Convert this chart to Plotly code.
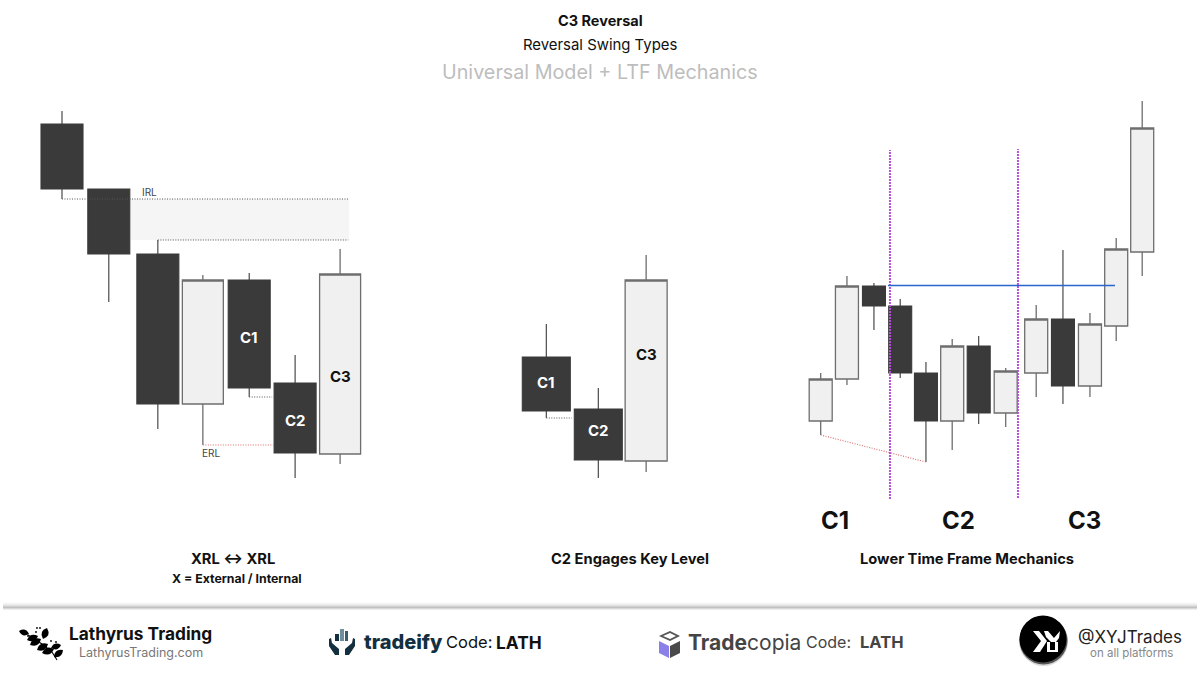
import plotly.graph_objects as go

W, H = 1200, 675
FONT = "Inter"
DARK = "#3a3a3a"
LIGHT_FILL = "#f0f0f0"
LIGHT_LINE = "#6e6e6e"

# ---------- data (bar position, price) ----------
p1_pos = [0, 1.04, 2.13, 3.13, 4.16, 5.18, 6.18]
p1_open = [551, 486, 421, 271, 395, 292, 221]
p1_close = [486, 421, 271, 395, 287, 222, 401]
p1_high = [564, 486, 435, 400, 402, 320, 426]
p1_low = [476, 373, 246, 230, 278, 197, 211]

p2_pos = [0, 1, 1.92]
p2_open = [318, 266, 214]
p2_close = [264, 215, 395]
p2_high = [351, 287, 420]
p2_low = [257, 197, 203]

p3_pos = [0, 1.05, 2.13, 3.18, 4.21, 5.26, 6.32, 7.40, 8.62, 9.69, 10.77, 11.82, 12.86]
p3_open = [254, 296, 389, 369, 302, 254, 329, 262, 302, 356, 289, 349, 423]
p3_close = [296, 389, 369, 302, 254, 329, 262, 304, 356, 289, 351, 426, 547]
p3_high = [302, 399, 392, 376, 313, 336, 339, 307, 370, 425, 362, 437, 574]
p3_low = [240, 290, 345, 297, 213, 225, 251, 248, 278, 271, 278, 334, 399]

titles = ["C3 Reversal", "Reversal Swing Types", "Universal Model + LTF Mechanics"]
captions = ["XRL ↔ XRL", "X = External / Internal", "C2 Engages Key Level", "Lower Time Frame Mechanics"]


def axis_range(px0, ppu):
    return [(0 - px0) / ppu, (W - px0) / ppu]


def px(x):
    return x / W


def py(y):
    return 1 - y / H


def candles(fig, pos, o, h, l, c, xaxis, dark_w, light_w):
    """Draw OHLC bars as box glyphs so that the body width can be set per panel."""
    for rising, fill, line, lw, w in [(True, LIGHT_FILL, LIGHT_LINE, 1.3, light_w),
                                      (False, DARK, DARK, 1.1, dark_w)]:
        idx = [i for i in range(len(pos)) if (c[i] > o[i]) == rising]
        if not idx:
            continue
        fig.add_trace(go.Box(
            x=[pos[i] for i in idx],
            q1=[min(o[i], c[i]) for i in idx],
            median=[c[i] for i in idx],
            q3=[max(o[i], c[i]) for i in idx],
            lowerfence=[l[i] for i in idx],
            upperfence=[h[i] for i in idx],
            width=w, whiskerwidth=0, fillcolor=fill,
            line=dict(color=line, width=lw),
            xaxis=xaxis, yaxis="y", showlegend=False, hoverinfo="skip",
        ))


def guide(xs, ys, xaxis, color, width=1, dash="1px,1.5px"):
    return go.Scatter(x=xs, y=ys, xaxis=xaxis, yaxis="y", mode="lines",
                      line=dict(color=color, width=width, dash=dash),
                      showlegend=False, hoverinfo="skip")


fig = go.Figure()
candles(fig, p1_pos, p1_open, p1_high, p1_low, p1_close, "x", 42 / 45, 41 / 45)
candles(fig, p2_pos, p2_open, p2_high, p2_low, p2_close, "x2", 48 / 52, 42 / 52)
candles(fig, p3_pos, p3_open, p3_high, p3_low, p3_close, "x3", 23 / 25, 23 / 25)

# guides
fig.add_trace(guide([0, 6.36], [476, 476], "x", "#555555", 1))
fig.add_trace(guide([2.13, 6.36], [435, 435], "x", "#555555", 1))
fig.add_trace(guide([3.13, 4.73], [230, 230], "x", "#e06a6a", 1.1))
fig.add_trace(guide([4.16, 4.67], [278, 278], "x", "#555555", 1))
fig.add_trace(guide([0, 0.49], [257, 257], "x2", "#555555", 1))
fig.add_trace(guide([0, 4.21], [240, 213], "x3", "#e06a6a", 1.1))
fig.add_trace(guide([2.77, 2.77], [176, 525], "x3", "#b84ee0", 2, "2px,1px"))
fig.add_trace(guide([7.89, 7.89], [177, 526], "x3", "#b84ee0", 2, "2px,1px"))
fig.add_trace(guide([2.69, 11.77], [389.5, 389.5], "x3", "#2a66cc", 1.5, "solid"))

shapes = [dict(type="rect", xref="x", yref="y", x0=1.53, x1=6.38, y0=435, y1=476,
               fillcolor="#f5f5f5", line_width=0, layer="below")]

# footer shadow rule
for i, shade in enumerate(["#f8f8f8", "#f0f0f0", "#e4e4e4", "#d2d2d2", "#b8b8b8", "#a8a8a8", "#dddddd"]):
    shapes.append(dict(type="rect", xref="paper", yref="paper",
                       x0=px(3), x1=px(1197), y0=py(602.5 + i), y1=py(603.5 + i),
                       fillcolor=shade, line_width=0, layer="below"))


def path(points_cmd):
    out = []
    for tok in points_cmd:
        if isinstance(tok, str):
            out.append(tok)
        else:
            out.append(f"{px(tok[0]):.5f},{py(tok[1]):.5f}")
    return " ".join(out)


def poly(points, color, line=0):
    d = ["M", points[0]]
    for p in points[1:]:
        d += ["L", p]
    d.append("Z")
    shapes.append(dict(type="path", xref="paper", yref="paper", path=path(d),
                       fillcolor=color, line=dict(color=color, width=line)))


def stroke(points, color, width):
    d = ["M", points[0]]
    for p in points[1:]:
        d += ["L", p]
    shapes.append(dict(type="path", xref="paper", yref="paper", path=path(d),
                       line=dict(color=color, width=width)))


def leaf(a, b, fat, color="#000000"):
    mx, my = (a[0] + b[0]) / 2, (a[1] + b[1]) / 2
    dx, dy = b[0] - a[0], b[1] - a[1]
    c1 = (mx - dy * fat, my + dx * fat)
    c2 = (mx + dy * fat, my - dx * fat)
    d = ["M", a, "Q", c1, b, "Q", c2, a, "Z"]
    shapes.append(dict(type="path", xref="paper", yref="paper", path=path(d),
                       fillcolor=color, line_width=0))


def dot(cx, cy, r, color):
    shapes.append(dict(type="circle", xref="paper", yref="paper",
                       x0=px(cx - r), x1=px(cx + r), y0=py(cy + r), y1=py(cy - r),
                       fillcolor=color, line_width=0))


# Lathyrus sprig
stroke([(28, 635), (42, 644), (52, 652), (57, 660)], "#000000", 1.1)
leaf((19, 631), (29, 634), 0.55)
leaf((43, 639), (47, 628), 0.6)
leaf((27, 640), (38, 636), 0.55)
leaf((30, 645), (41, 639), 0.55)
leaf((51, 648), (61, 645), 0.55)
leaf((37, 650), (48, 644), 0.55)
leaf((42, 653), (54, 649), 0.55)
leaf((54, 657), (63, 650), 0.55)
for cx, cy in [(37, 628), (40, 628), (36, 632), (51, 641), (56, 642), (28, 636)]:
    dot(cx, cy, 0.9, "#000000")

# tradeify hands and bars
TF = "#12303f"
poly([(329, 639), (331, 638), (332, 643), (339, 649), (339, 655), (335, 655), (329, 646)], TF)
poly([(355, 639), (353, 638), (352, 643), (345, 649), (345, 655), (349, 655), (355, 646)], TF)
poly([(335, 634), (339, 634), (339, 641), (335, 641)], TF)
poly([(340, 629), (344, 629), (344, 641), (340, 641)], "#6f8f9c")
poly([(345, 631), (348, 631), (348, 641), (345, 641)], "#3c5c6a")

# Tradecopia box
poly([(659, 641), (669, 646), (669, 658), (659, 653)], "#8a80e8")
poly([(670, 646), (680, 641), (680, 653), (670, 658)], "#4a4a4a")
poly([(659, 636), (670, 631), (680, 636), (670, 641)], "#555555")
poly([(663, 636), (670, 633), (676, 636), (670, 639)], "#ffffff")

# XYJ badge
dot(1043.5, 641.5, 24.5, "#d8d8d8")
dot(1043.5, 640.5, 24, "#555555")
dot(1043, 639, 23.5, "#000000")
poly([(1033, 631), (1039, 631), (1047, 641), (1040, 652), (1033, 652), (1041, 641)], "#ffffff")
poly([(1044, 631), (1048, 631), (1054, 638), (1060, 631), (1059, 638), (1056, 642), (1051, 642), (1046, 637)], "#ffffff")
poly([(1047, 642), (1050, 642), (1050, 650), (1055, 650), (1055, 642), (1058, 642), (1058, 652), (1047, 652)], "#ffffff")


def note(x, y, text, size, color="#000000", weight=400, anchor="center", family=FONT):
    fig.add_annotation(xref="paper", yref="paper", x=px(x), y=py(y), text=text,
                       showarrow=False, xanchor=anchor, yanchor="middle",
                       font=dict(family=family, size=size, color=color, weight=weight))


note(600, 21, titles[0], 14.5, weight=700, color="#111111")
note(600, 45, titles[1], 14.9, color="#111111")
note(600, 72, titles[2], 19.75, color="#bdbdbd")

note(233, 559, captions[0], 14.7, weight=700, color="#111111")
note(237, 578, captions[1], 12.3, weight=700, color="#111111")
note(630, 559, captions[2], 14.7, weight=700, color="#111111")
note(967, 559, captions[3], 14.7, weight=700, color="#111111")

note(149, 192, "IRL", 10, color="#444444")
note(211, 452.5, "ERL", 10, color="#444444")

note(249, 337, "C1", 15, color="#ffffff", weight=700)
note(295, 421, "C2", 15, color="#ffffff", weight=700)
note(340, 376, "C3", 15, color="#111111", weight=700)
note(546, 383, "C1", 15, color="#ffffff", weight=700)
note(598, 430, "C2", 15, color="#ffffff", weight=700)
note(646, 354, "C3", 15, color="#111111", weight=700)
note(835, 520, "C1", 24, color="#111111", weight=700)
note(958, 520, "C2", 24, color="#111111", weight=700)
note(1084, 520, "C3", 24, color="#111111", weight=700)

note(67, 633.5, "Lathyrus Trading", 17.3, weight=700, anchor="left", color="#111111")
note(77, 652.5, "LathyrusTrading.com", 12.5, color="#777777", anchor="left")
note(362, 642, "tradeify", 20, color=TF, weight=800, anchor="left")
note(444, 642, "Code:", 16.5, color="#111111", anchor="left")
note(494, 642, "LATH", 17.3, color="#111111", weight=700, anchor="left")
note(686, 642, "<b>Trade</b>copia", 21, color="#444444", anchor="left")
note(804, 642, "Code:", 16, color="#444444", anchor="left")
note(858, 642, "LATH", 16.5, color="#444444", weight=700, anchor="left")
note(1076, 637, "@XYJTrades", 17, color="#222222", anchor="left")
note(1131, 653, "on all platforms", 11.5, color="#888888")

hidden = dict(visible=False, fixedrange=True, showgrid=False, zeroline=False, domain=[0, 1])


def xax(px0, ppu, overlay=True):
    d = dict(hidden, range=axis_range(px0, ppu))
    if overlay:
        d.update(overlaying="x", anchor="y")
    return d


fig.update_layout(
    width=W, height=H, margin=dict(l=0, r=0, t=0, b=0, pad=0),
    paper_bgcolor="#ffffff", plot_bgcolor="#ffffff",
    showlegend=False, boxmode="overlay", hovermode=False,
    xaxis=xax(62, 45, overlay=False),
    xaxis2=xax(546.3, 52),
    xaxis3=xax(820.7, 25),
    yaxis=dict(visible=False, fixedrange=True, range=[0, H], domain=[0, 1],
               showgrid=False, zeroline=False),
    shapes=shapes,
)

fig.write_html("out.html", config={"displayModeBar": False},
               post_script="document.body.style.margin='0';")
